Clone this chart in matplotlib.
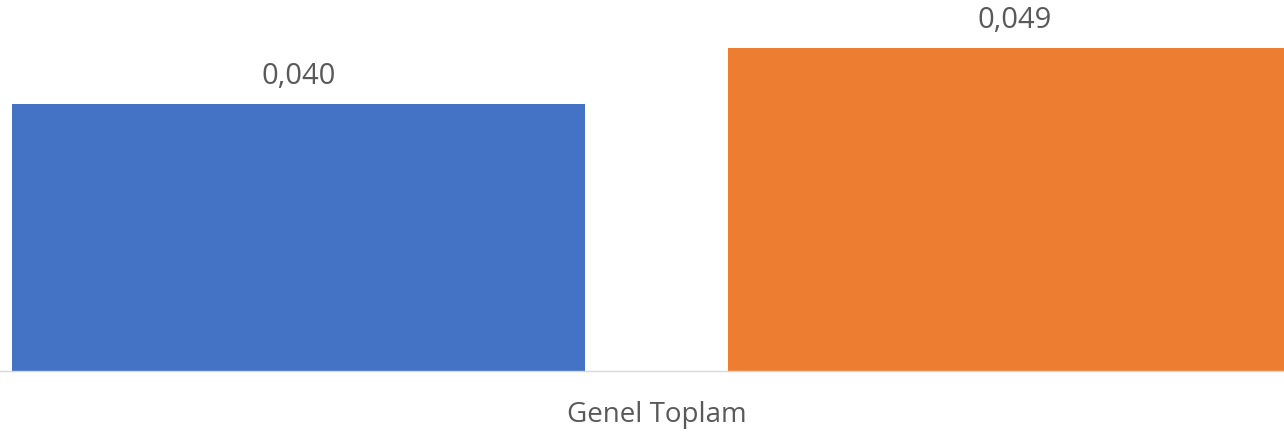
import matplotlib.pyplot as plt

# data
series = ['Seri 1', 'Seri 2']
values = [0.0403, 0.0488]
colors = ['#4472C4', '#ED7D31']
category = 'Genel Toplam'

plt.rcParams['font.family'] = ['Open Sans', 'DejaVu Sans']

fig = plt.figure(figsize=(12.84, 4.32), dpi=100)
ax = fig.add_axes([0, 61 / 432, 1, 371 / 432])

positions = range(len(values))
bars = ax.bar(positions, values, width=0.8, color=colors)

# value labels, baseline ~20 px above the bar top
for bar, v in zip(bars, values):
    ax.annotate(f'{v:.3f}'.replace('.', ','),
                (bar.get_x() + bar.get_width() / 2, v),
                xytext=(0, 14.4), textcoords='offset points',
                ha='center', va='baseline', fontsize=21, color='#595959')

ax.set_xlim(-0.417, 1.376)
ax.set_ylim(0, 0.05603)
ax.set_xticks([0.5])
ax.set_xticklabels([category], fontsize=20, color='#595959', va='baseline')
ax.tick_params(axis='x', length=0, pad=36.7)
ax.set_yticks([])
for side in ['top', 'left', 'right']:
    ax.spines[side].set_visible(False)
ax.spines['bottom'].set_color('#D9D9D9')
ax.spines['bottom'].set_linewidth(1)

fig.savefig('out.png', dpi=100)
